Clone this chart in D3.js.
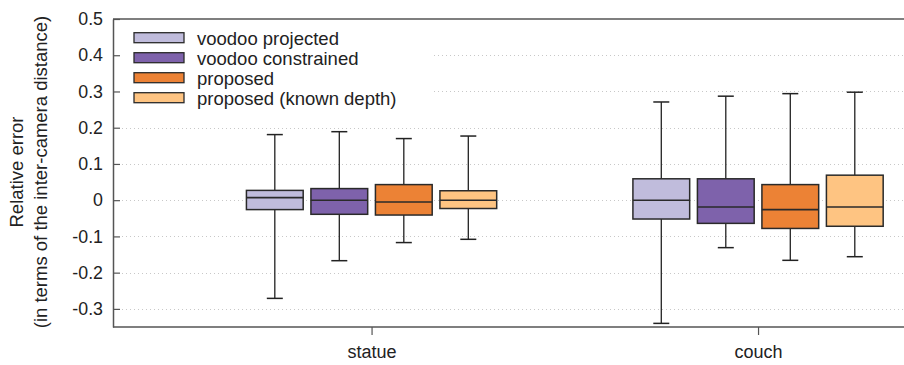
<!DOCTYPE html>
<html><head><meta charset="utf-8">
<script src="https://cdn.jsdelivr.net/npm/d3@7/dist/d3.min.js"></script>
<style>body{margin:0;background:#fff;} svg{display:block;font-family:"Liberation Sans",Arial,sans-serif;}</style>
</head><body>
<svg id="c" width="904" height="365"></svg>
<script>
const categories = ["statue", "couch"];
const series = ["voodoo projected", "voodoo constrained", "proposed", "proposed (known depth)"];
const colors = ["#c0bcdc", "#7e62ab", "#ec8235", "#fec482"];
// [whiskerLow, q1, median, q3, whiskerHigh] per series, per category
const voodooProjected   = [[-0.271, -0.026, 0.007, 0.027, 0.181], [-0.340, -0.052, 0.000, 0.059, 0.271]];
const voodooConstrained = [[-0.167, -0.039, 0.000, 0.032, 0.189], [-0.131, -0.064, -0.019, 0.059, 0.287]];
const proposed          = [[-0.117, -0.041, -0.005, 0.043, 0.170], [-0.166, -0.078, -0.026, 0.043, 0.294]];
const proposedKnown     = [[-0.108, -0.023, 0.000, 0.026, 0.177], [-0.156, -0.072, -0.019, 0.069, 0.298]];
const yTicks = [0.5, 0.4, 0.3, 0.2, 0.1, 0, -0.1, -0.2, -0.3];
const yTickLabels = ["0.5", "0.4", "0.3", "0.2", "0.1", "0", "-0.1", "-0.2", "-0.3"];
const allSeries = [voodooProjected, voodooConstrained, proposed, proposedKnown];

(function () {
const svg = d3.select("#c");
const mLeft = 113, mTop = 19, mBottom = 327;
const FF = '"Liberation Sans",Arial,sans-serif';
const y = d3.scaleLinear().domain([-0.35, 0.5]).range([mBottom, mTop]);
const x = d3.scalePoint().domain(categories).range([mLeft, 1016.6]).padding(0.669);
const xs = d3.scaleBand().domain(series).range([-129, 129]).paddingInner(0.12).paddingOuter(0.06);
const bw = xs.bandwidth();

// gridlines
svg.append("g").selectAll("line").data(yTicks.filter(v => v < 0.5)).join("line")
  .attr("x1", mLeft + 9).attr("x2", 904)
  .attr("y1", d => Math.round(y(d)) + 0.5).attr("y2", d => Math.round(y(d)) + 0.5)
  .attr("stroke", "#c8c8c8").attr("stroke-width", 1).attr("stroke-dasharray", "1,3");

// legend background
svg.append("rect").attr("x", mLeft + 2).attr("y", mTop + 2).attr("width", 316).attr("height", 88).attr("fill", "#fff");

// boxes
const g = svg.append("g");
categories.forEach((cat, ci) => {
  allSeries.forEach((s, si) => {
    const [lo, q1, med, q3, hi] = s[ci];
    const cx = x(cat) + xs(series[si]) + bw / 2;
    const bg = g.append("g");
    bg.append("line").attr("x1", cx).attr("x2", cx).attr("y1", y(hi)).attr("y2", y(q3)).attr("stroke", "#222").attr("stroke-width", 1.3);
    bg.append("line").attr("x1", cx).attr("x2", cx).attr("y1", y(q1)).attr("y2", y(lo)).attr("stroke", "#222").attr("stroke-width", 1.3);
    bg.append("line").attr("x1", cx - 8).attr("x2", cx + 8).attr("y1", y(hi)).attr("y2", y(hi)).attr("stroke", "#222").attr("stroke-width", 1.5);
    bg.append("line").attr("x1", cx - 8).attr("x2", cx + 8).attr("y1", y(lo)).attr("y2", y(lo)).attr("stroke", "#222").attr("stroke-width", 1.5);
    bg.append("rect").attr("x", cx - bw / 2).attr("y", y(q3)).attr("width", bw).attr("height", y(q1) - y(q3))
      .attr("fill", colors[si]).attr("stroke", "#2a2a2a").attr("stroke-width", 1.5);
    bg.append("line").attr("x1", cx - bw / 2).attr("x2", cx + bw / 2).attr("y1", y(med)).attr("y2", y(med)).attr("stroke", "#2a2a2a").attr("stroke-width", 1.6);
  });
});

// axes
const yAxis = d3.axisLeft(y).tickValues(yTicks).tickFormat((d, i) => yTickLabels[i]).tickSizeInner(-7).tickSizeOuter(0).tickPadding(10);
const ya = svg.append("g").attr("transform", `translate(${mLeft},0)`).call(yAxis);
ya.select(".domain").attr("stroke", "#555").attr("stroke-width", 1.5);
ya.selectAll(".tick line").attr("stroke", "#555").attr("stroke-width", 1.2);
ya.selectAll(".tick text").attr("font-size", 17.8).attr("fill", "#222").attr("font-family", FF);

const xAxis = d3.axisBottom(x).tickSizeInner(8).tickSizeOuter(0).tickPadding(10);
const xa = svg.append("g").attr("transform", `translate(0,${mBottom})`).call(xAxis);
xa.select(".domain").remove();
xa.selectAll(".tick line").attr("stroke", "#555").attr("stroke-width", 1.2);
xa.selectAll(".tick text").attr("font-size", 18).attr("fill", "#222").attr("font-family", FF);

svg.append("line").attr("x1", mLeft).attr("x2", 904).attr("y1", mBottom).attr("y2", mBottom).attr("stroke", "#555").attr("stroke-width", 1.5);
svg.append("line").attr("x1", mLeft).attr("x2", 904).attr("y1", mTop).attr("y2", mTop).attr("stroke", "#555").attr("stroke-width", 1.5);

// legend
const lg = svg.append("g");
series.forEach((s, i) => {
  const cy = 37.7 + i * 20;
  lg.append("rect").attr("x", 134).attr("y", cy - 5).attr("width", 50).attr("height", 10)
    .attr("fill", colors[i]).attr("stroke", "#2a2a2a").attr("stroke-width", 1.3);
  lg.append("text").attr("x", 197).attr("y", cy).attr("dy", "0.4em").attr("font-size", 18.5).attr("fill", "#222").text(s);
});

// y title
const mid = 172;
svg.append("text").attr("transform", `translate(22.5,${mid}) rotate(-90)`).attr("text-anchor", "middle")
  .attr("font-size", 18.5).attr("fill", "#222").text("Relative error");
svg.append("text").attr("transform", `translate(46.5,${mid}) rotate(-90)`).attr("text-anchor", "middle")
  .attr("font-size", 18.5).attr("fill", "#222").text("(in terms of the inter-camera distance)");
})();
</script>
</body></html>
